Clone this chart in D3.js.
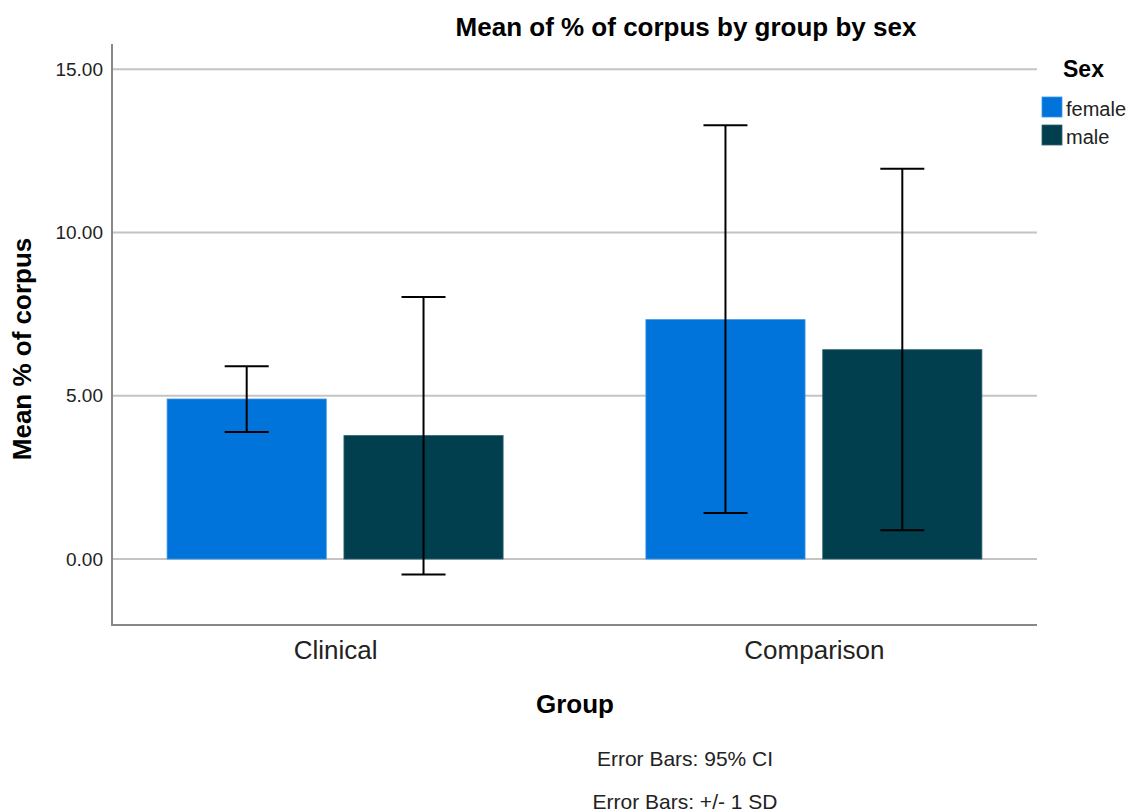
<!DOCTYPE html>
<html><head><meta charset="utf-8">
<script src="https://cdn.jsdelivr.net/npm/d3@7"></script>
<style>body{margin:0;background:#fff}svg{display:block;font-family:"Liberation Sans",Arial,sans-serif}</style>
</head><body><svg id="c" width="1132" height="812"></svg>
<script>
const groups = ["Clinical", "Comparison"];
const sexes = ["female", "male"];
const means = { female: [4.90, 7.33], male: [3.78, 6.41] };
const errLow = { female: [3.89, 1.41], male: [-0.47, 0.88] };
const errHigh = { female: [5.90, 13.28], male: [8.02, 11.95] };
const yTicks = [0, 5, 10, 15];
const colors = { female: "#0074DB", male: "#023F4E" };

const svg = d3.select("#c");
const L = 112, R = 1037, T = 44, B = 625;
const y = d3.scaleLinear().domain([-2.02, 15.77]).range([B, T]);
const x = d3.scalePoint().domain(groups).range([L, R]).padding(0.466);
const xs = d3.scaleBand().domain(sexes).range([-168, 168]).paddingInner(0.1);

// gridlines
svg.append("g").selectAll("line").data(yTicks).join("line")
  .attr("x1", L).attr("x2", R).attr("y1", d => y(d)).attr("y2", d => y(d))
  .attr("stroke", "#c4c4c4").attr("stroke-width", 2);

// y axis
const ya = svg.append("g").attr("transform", `translate(${L},0)`)
  .call(d3.axisLeft(y).tickValues(yTicks).tickFormat(d3.format(".2f")).tickSize(0).tickPadding(9));
ya.select(".domain").remove();
ya.selectAll("text").attr("font-size", 19).attr("fill", "#222").attr("font-family", "Liberation Sans, Arial");

// bars
const rows = [];
groups.forEach((g, i) => sexes.forEach(s => rows.push({ g, s, v: means[s][i], lo: errLow[s][i], hi: errHigh[s][i] })));
svg.append("g").selectAll("rect").data(rows).join("rect")
  .attr("x", d => x(d.g) + xs(d.s)).attr("width", xs.bandwidth())
  .attr("y", d => y(d.v)).attr("height", d => y(0) - y(d.v))
  .attr("fill", d => colors[d.s])
  .attr("stroke", d => d.s === "female" ? "#3c95e6" : "#2a6470").attr("stroke-width", 0.8);

// error bars
const eb = svg.append("g").attr("stroke", "#000").attr("stroke-width", 2);
rows.forEach(d => {
  const cx = x(d.g) + xs(d.s) + xs.bandwidth() / 2;
  eb.append("line").attr("x1", cx).attr("x2", cx).attr("y1", y(d.hi)).attr("y2", y(d.lo));
  eb.append("line").attr("x1", cx - 22).attr("x2", cx + 22).attr("y1", y(d.hi)).attr("y2", y(d.hi));
  eb.append("line").attr("x1", cx - 22).attr("x2", cx + 22).attr("y1", y(d.lo)).attr("y2", y(d.lo));
});

// axes lines
svg.append("line").attr("x1", L).attr("x2", L).attr("y1", T).attr("y2", B).attr("stroke", "#888").attr("stroke-width", 2);
svg.append("line").attr("x1", L - 1).attr("x2", R).attr("y1", B).attr("y2", B).attr("stroke", "#888").attr("stroke-width", 2);

// x axis labels
const xa = svg.append("g").attr("transform", `translate(0,${B})`)
  .call(d3.axisBottom(x).tickSize(0).tickPadding(0));
xa.select(".domain").remove();
xa.selectAll("text").attr("dy", null).attr("y", 34).attr("font-size", 26).attr("fill", "#222").attr("font-family", "Liberation Sans, Arial");

// titles
svg.append("text").attr("x", 686).attr("y", 36).attr("text-anchor", "middle")
  .attr("font-size", 26).attr("font-weight", "bold").text("Mean of % of corpus by group by sex");
svg.append("text").attr("transform", "translate(31,349) rotate(-90)").attr("text-anchor", "middle")
  .attr("font-size", 26).attr("font-weight", "bold").text("Mean % of corpus");
svg.append("text").attr("x", 575).attr("y", 713).attr("text-anchor", "middle")
  .attr("font-size", 26).attr("font-weight", "bold").text("Group");
svg.append("text").attr("x", 685).attr("y", 766).attr("text-anchor", "middle")
  .attr("font-size", 21).attr("fill", "#222").text("Error Bars: 95% CI");
svg.append("text").attr("x", 685).attr("y", 809).attr("text-anchor", "middle")
  .attr("font-size", 21).attr("fill", "#222").text("Error Bars: +/- 1 SD");

// legend
const lg = svg.append("g");
lg.append("text").attr("x", 1063).attr("y", 77).attr("font-size", 23).attr("font-weight", "bold").text("Sex");
sexes.forEach((s, i) => {
  lg.append("rect").attr("x", 1042).attr("y", 97 + i * 28).attr("width", 20).attr("height", 20)
    .attr("fill", colors[s]).attr("stroke", s === "female" ? "#3c95e6" : "#2a6470").attr("stroke-width", 0.8);
  lg.append("text").attr("x", 1066).attr("y", 116 + i * 28).attr("font-size", 20).attr("fill", "#222").text(s);
});
</script></body></html>
